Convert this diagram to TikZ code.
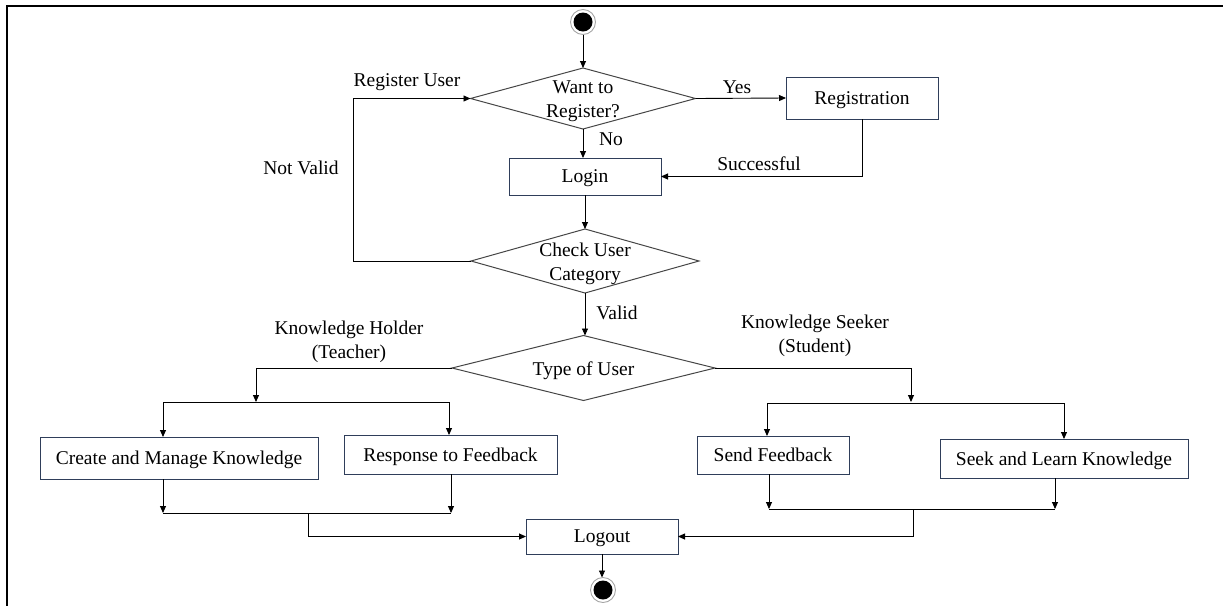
\documentclass[tikz,border=0pt]{standalone}
\usepackage{fontspec}
\setmainfont{Liberation Serif}
\usetikzlibrary{shapes.geometric,arrows.meta}
\definecolor{boxline}{RGB}{47,62,90}
\definecolor{dialine}{RGB}{70,70,70}
\tikzset{
  box/.style={draw=boxline, line width=1pt, rectangle, inner sep=0pt, outer sep=0pt, text depth=0pt},
  dia/.style={draw=dialine, line width=1pt, diamond, inner sep=0pt, outer sep=0pt},
  arr/.style={draw=black, line width=0.9pt, -{Triangle[length=7pt,width=6pt]}},
  ln/.style={draw=black, line width=0.9pt},
  ringc/.style={circle, draw=gray!70, line width=0.9pt, minimum size=25pt, inner sep=0pt, outer sep=0pt,
    path picture={\fill[black] (path picture bounding box.center) circle (9.5pt);}},
  lbl/.style={inner sep=0pt, align=center},
  dlbl/.style={inner sep=0pt, align=center, yshift=-2.5pt}
}
\begin{document}
\begin{tikzpicture}[x=1pt,y=-1pt, font=\fontsize{19.5}{24}\selectfont]
\useasboundingbox (0,0) rectangle (1223,606);
\draw[line width=2pt] (1223,6) -- (7,6) -- (7,606);

% nodes
\node[ringc] (start) at (583,22) {};
\node[dia, minimum width=225pt, minimum height=61pt,
      label={[dlbl]center:Want to\\Register?}] (want) at (583,98.5) {};
\node[box, minimum width=152pt, minimum height=42pt] (reg) at (862,98) {Registration};
\node[box, minimum width=152pt, minimum height=37pt] (login) at (585,176.5) {Login};
\node[dia, minimum width=228pt, minimum height=64pt,
      label={[dlbl]center:Check User\\Category}] (check) at (585,261) {};
\node[dia, minimum width=263pt, minimum height=65pt,
      label={[dlbl]center:Type of User}] (type) at (583.5,368) {};
\node[box, minimum width=278pt, minimum height=42pt] (create) at (179,458) {Create and Manage Knowledge};
\node[box, minimum width=213pt, minimum height=39pt] (resp) at (450.5,454.5) {Response to Feedback};
\node[box, minimum width=152pt, minimum height=38pt] (send) at (773,455) {Send Feedback};
\node[box, minimum width=248pt, minimum height=39pt] (seek) at (1064,458.5) {Seek and Learn Knowledge};
\node[box, minimum width=152pt, minimum height=35pt] (logout) at (602,536.5) {Logout};
\node[ringc] (end) at (603,590) {};

% labels
\node[lbl] (lyes) at (737,87) {Yes};
\node[lbl] (lno) at (611,139) {No};
\node[lbl] (lsucc) at (759,164) {Successful};
\node[lbl] (lreg) at (407,82) {Register User};
\node[lbl] (lnv) at (301,168) {Not Valid};
\node[lbl] (lvalid) at (617,313) {Valid};
\node[lbl] (lholder) at (349,341.5) {Knowledge Holder\\(Teacher)};
\node[lbl] (lseeker) at (815,336) {Knowledge Seeker\\(Student)};

% coordinates
\coordinate (nv) at (353,261);
\coordinate (ls) at (256,402);
\coordinate (lsl) at (163,402);
\coordinate (lsr) at (449,402);
\coordinate (ljl) at (163,513);
\coordinate (ljr) at (451,513);
\coordinate (lm) at (308,513);
\coordinate (rs) at (911,402);
\coordinate (rsl) at (767,403);
\coordinate (rsr) at (1064,403);
\coordinate (rjl) at (769,509);
\coordinate (rjr) at (1055,509);
\coordinate (rm) at (913,509);

% connectors
\draw[arr] (start) -- (want.north);
\draw[arr] (want.east) -- (reg.west);
\draw[arr] (want.south) -- (want.south |- login.north);
\draw[arr] (reg.south) |- (login.east);
\draw[arr] (login.south) -- (login.south |- check.north);
\draw[arr] (check.west) -- (nv) |- (want.west);
\draw[arr] (check.south) -- (check.south |- type.north);

\draw[arr] (type.west) -| (ls);
\draw[ln] (lsl) -- (lsr);
\draw[arr] (lsl) -- (lsl |- create.north);
\draw[arr] (lsr) -- (lsr |- resp.north);
\draw[arr] (create.south -| ljl) -- (ljl);
\draw[arr] (resp.south -| ljr) -- (ljr);
\draw[ln] (ljl) -- (ljr);
\draw[arr] (lm) |- (logout.west);

\draw[arr] (type.east) -| (rs);
\draw[ln] (rsl) -- (rsr);
\draw[arr] (rsl) -- (rsl |- send.north);
\draw[arr] (rsr) -- (rsr |- seek.north);
\draw[arr] (send.south -| rjl) -- (rjl);
\draw[arr] (seek.south -| rjr) -- (rjr);
\draw[ln] (rjl) -- (rjr);
\draw[arr] (rm) |- (logout.east);

\draw[arr] (logout.south) -- (logout.south |- end.north);
\end{tikzpicture}
\end{document}
